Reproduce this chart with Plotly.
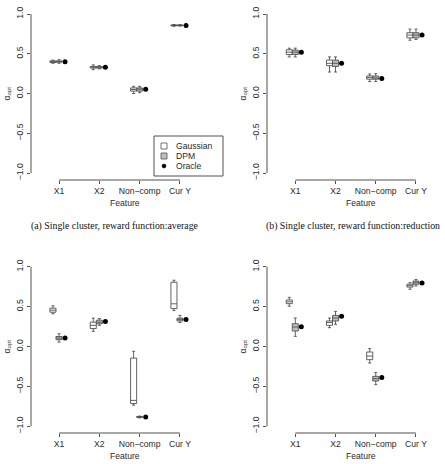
import plotly.graph_objects as go

W, H = 445, 464

features = ["X1", "X2", "Non\u2212comp", "Cur Y"]
series_names = ["Gaussian", "DPM", "Oracle"]

# each box: [lower whisker, q1, median, q3, upper whisker] per feature
a_gauss = [[0.38, 0.39, 0.40, 0.41, 0.42], [0.30, 0.32, 0.33, 0.34, 0.36],
           [0.00, 0.03, 0.05, 0.07, 0.09], [0.845, 0.852, 0.857, 0.862, 0.868]]
a_dpm = [[0.38, 0.395, 0.40, 0.41, 0.425], [0.31, 0.32, 0.33, 0.34, 0.35],
         [0.01, 0.03, 0.055, 0.07, 0.09], [0.848, 0.853, 0.857, 0.861, 0.866]]
a_oracle = [0.40, 0.33, 0.055, 0.855]

b_gauss = [[0.46, 0.49, 0.52, 0.55, 0.57], [0.27, 0.35, 0.38, 0.42, 0.46],
           [0.15, 0.18, 0.20, 0.22, 0.245], [0.67, 0.70, 0.735, 0.765, 0.81]]
b_dpm = [[0.46, 0.49, 0.52, 0.545, 0.57], [0.27, 0.34, 0.38, 0.42, 0.46],
         [0.15, 0.18, 0.195, 0.22, 0.25], [0.68, 0.70, 0.735, 0.765, 0.81]]
b_oracle = [0.52, 0.38, 0.19, 0.735]

c_gauss = [[0.41, 0.43, 0.455, 0.48, 0.51], [0.19, 0.225, 0.265, 0.305, 0.355],
           [-0.735, -0.715, -0.675, -0.145, -0.06], [0.45, 0.475, 0.535, 0.805, 0.83]]
c_dpm = [[0.055, 0.085, 0.105, 0.125, 0.16], [0.265, 0.285, 0.305, 0.33, 0.35],
         [-0.895, -0.888, -0.883, -0.878, -0.872], [0.30, 0.32, 0.34, 0.355, 0.39]]
c_oracle = [0.107, 0.312, -0.883, 0.338]

d_gauss = [[0.505, 0.537, 0.56, 0.583, 0.616], [0.236, 0.265, 0.30, 0.32, 0.357],
           [-0.207, -0.165, -0.12, -0.069, -0.027], [0.717, 0.745, 0.762, 0.78, 0.80]]
d_dpm = [[0.127, 0.194, 0.244, 0.286, 0.357], [0.278, 0.32, 0.357, 0.39, 0.44],
         [-0.478, -0.432, -0.403, -0.374, -0.328], [0.758, 0.78, 0.80, 0.82, 0.84]]
d_oracle = [0.248, 0.378, -0.39, 0.795]

captions = ["(a) Single cluster, reward function:average",
            "(b) Single cluster, reward function:reduction"]

y_ticks = [-1.0, -0.5, 0.0, 0.5, 1.0]

AX = "#505050"
TXT = "#2a2a2a"
GRAY = "#bebebe"
SANS = "Liberation Sans, Arial, sans-serif"
SERIF = "Liberation Serif, Times New Roman, serif"
FS = 8.6


def px_x(p):
    return p / W


def px_y(p):
    return 1 - p / H


panels = [
    dict(g=a_gauss, d=a_dpm, o=a_oracle, dom_x=(31, 220), xr=(0.3057, 4.992),
         dom_y=(180, 7), yr=(-1.088, 1.088)),
    dict(g=b_gauss, d=b_dpm, o=b_oracle, dom_x=(267, 440), xr=(0.2966, 4.597),
         dom_y=(180, 7), yr=(-1.088, 1.088)),
    dict(g=c_gauss, d=c_dpm, o=c_oracle, dom_x=(31, 220), xr=(0.3057, 4.992),
         dom_y=(433, 260), yr=(-1.084, 1.084)),
    dict(g=d_gauss, d=d_dpm, o=d_oracle, dom_x=(267, 440), xr=(0.2966, 4.597),
         dom_y=(433, 260), yr=(-1.084, 1.084)),
]

fig = go.Figure()
layout = dict(width=W, height=H, margin=dict(l=0, r=0, t=0, b=0),
              paper_bgcolor="white", plot_bgcolor="white", showlegend=False,
              boxmode="overlay", font=dict(family=SANS, size=FS, color=TXT))
shapes = []
annotations = []

pos = [1, 2, 3, 4]
off = 0.15
bw = 0.15

for k, p in enumerate(panels, start=1):
    xa = "x" if k == 1 else f"x{k}"
    ya = "y" if k == 1 else f"y{k}"
    for vals, fill, dx in ((p["g"], "white", -off), (p["d"], GRAY, 0.0)):
        fig.add_trace(go.Box(
            x=[v + dx for v in pos],
            lowerfence=[b[0] for b in vals], q1=[b[1] for b in vals],
            median=[b[2] for b in vals], q3=[b[3] for b in vals],
            upperfence=[b[4] for b in vals],
            width=bw, whiskerwidth=0.5, fillcolor=fill,
            line=dict(color=AX, width=0.9), xaxis=xa, yaxis=ya,
            hoverinfo="skip"))
    fig.add_trace(go.Scatter(
        x=[v + off for v in pos], y=p["o"], mode="markers",
        marker=dict(color="black", size=5), xaxis=xa, yaxis=ya,
        hoverinfo="skip"))

    xkey = "xaxis" if k == 1 else f"xaxis{k}"
    ykey = "yaxis" if k == 1 else f"yaxis{k}"
    layout[xkey] = dict(domain=[px_x(p["dom_x"][0]), px_x(p["dom_x"][1])],
                        range=list(p["xr"]), anchor=ya, showgrid=False,
                        zeroline=False, showline=False, ticks="outside",
                        ticklen=3, tickwidth=1, tickcolor=AX,
                        tickvals=pos, ticktext=features,
                        tickfont=dict(size=FS, color=TXT, family=SANS),
                        ticklabelstandoff=0)
    layout[ykey] = dict(domain=[px_y(p["dom_y"][0]), px_y(p["dom_y"][1])],
                        range=list(p["yr"]), anchor=xa, showgrid=False,
                        zeroline=False, showline=False, ticks="outside",
                        ticklen=3, tickwidth=1, tickcolor=AX,
                        tickvals=y_ticks, tickformat=".1f", tickangle=-90,
                        tickfont=dict(size=FS, color=TXT, family=SANS),
                        ticklabelstandoff=1)
    # R-style axis lines spanning first..last tick
    shapes.append(dict(type="line", xref=xa, yref=f"{ya} domain", x0=1, x1=4,
                       y0=0, y1=0, line=dict(color=AX, width=1)))
    shapes.append(dict(type="line", xref=f"{xa} domain", yref=ya, x0=0, x1=0,
                       y0=-1, y1=1, line=dict(color=AX, width=1)))
    # y title
    ytx = 7 if p["dom_x"][0] < 100 else 243
    annotations.append(dict(text="\u03b1<sub>opt</sub>", xref="paper", yref=ya,
                            x=px_x(ytx), y=0, showarrow=False, textangle=-90,
                            font=dict(size=FS, color=TXT, family=SANS),
                            xanchor="center", yanchor="middle"))
    # x title
    fx = 125 if p["dom_x"][0] < 100 else 361
    fy = 203 if p["dom_y"][0] < 300 else 455.5
    annotations.append(dict(text="Feature", xref="paper", yref="paper",
                            x=px_x(fx), y=px_y(fy), showarrow=False,
                            font=dict(size=FS, color=TXT, family=SANS),
                            xanchor="center", yanchor="middle"))

# captions
for txt, cx in zip(captions, (115, 353)):
    annotations.append(dict(text=txt, xref="paper", yref="paper",
                            x=px_x(cx), y=px_y(226), showarrow=False,
                            font=dict(size=9.8, color="#111", family=SERIF),
                            xanchor="center", yanchor="middle"))

# legend (panel a)
shapes.append(dict(type="rect", xref="paper", yref="paper",
                   x0=px_x(154), x1=px_x(223), y0=px_y(176), y1=px_y(136),
                   line=dict(color=AX, width=1), fillcolor="white"))
for i, (name, fill) in enumerate(zip(series_names, ("white", GRAY, None))):
    cy = 146 + 10 * i
    if fill is not None:
        shapes.append(dict(type="rect", xref="paper", yref="paper",
                           x0=px_x(161), x1=px_x(167), y0=px_y(cy + 3), y1=px_y(cy - 3),
                           line=dict(color=AX, width=0.8), fillcolor=fill))
    else:
        shapes.append(dict(type="circle", xref="paper", yref="paper",
                           x0=px_x(162), x1=px_x(166), y0=px_y(cy + 2), y1=px_y(cy - 2),
                           line=dict(color="black", width=0.5), fillcolor="black"))
    annotations.append(dict(text=name, xref="paper", yref="paper",
                            x=px_x(174), y=px_y(cy), showarrow=False,
                            font=dict(size=FS, color=TXT, family=SANS),
                            xanchor="left", yanchor="middle"))

layout["shapes"] = shapes
layout["annotations"] = annotations
fig.update_layout(**layout)
fig.write_html("out.html")
